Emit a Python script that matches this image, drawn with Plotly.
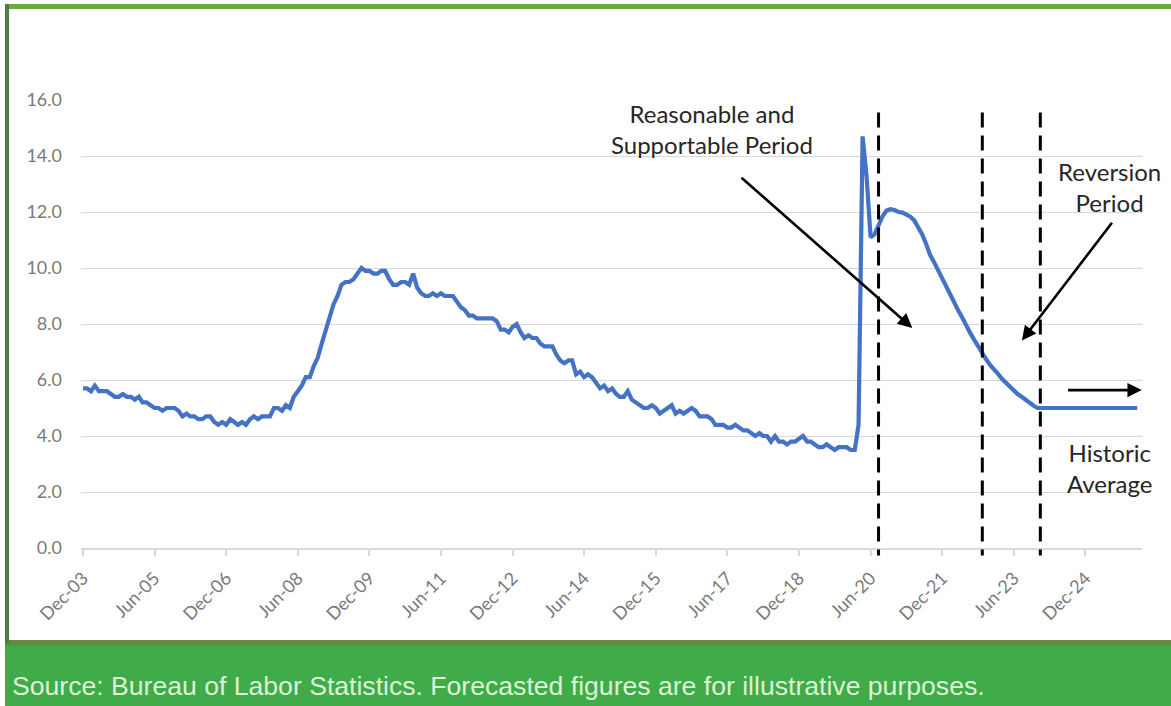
import plotly.graph_objects as go
import pandas as pd

# ---------------- data ----------------
start_month = "2003-12-01"

# Unemployment rate (%), monthly, Dec-2003 .. Jun-2020
hist_2003 = [5.7]
hist_2004 = [5.7, 5.6, 5.8, 5.6, 5.6, 5.6, 5.5, 5.4, 5.4, 5.5, 5.4, 5.4]
hist_2005 = [5.3, 5.4, 5.2, 5.2, 5.1, 5.0, 5.0, 4.9, 5.0, 5.0, 5.0, 4.9]
hist_2006 = [4.7, 4.8, 4.7, 4.7, 4.6, 4.6, 4.7, 4.7, 4.5, 4.4, 4.5, 4.4]
hist_2007 = [4.6, 4.5, 4.4, 4.5, 4.4, 4.6, 4.7, 4.6, 4.7, 4.7, 4.7, 5.0]
hist_2008 = [5.0, 4.9, 5.1, 5.0, 5.4, 5.6, 5.8, 6.1, 6.1, 6.5, 6.8, 7.3]
hist_2009 = [7.8, 8.3, 8.7, 9.0, 9.4, 9.5, 9.5, 9.6, 9.8, 10.0, 9.9, 9.9]
hist_2010 = [9.8, 9.8, 9.9, 9.9, 9.6, 9.4, 9.4, 9.5, 9.5, 9.4, 9.8, 9.3]
hist_2011 = [9.1, 9.0, 9.0, 9.1, 9.0, 9.1, 9.0, 9.0, 9.0, 8.8, 8.6, 8.5]
hist_2012 = [8.3, 8.3, 8.2, 8.2, 8.2, 8.2, 8.2, 8.1, 7.8, 7.8, 7.7, 7.9]
hist_2013 = [8.0, 7.7, 7.5, 7.6, 7.5, 7.5, 7.3, 7.2, 7.2, 7.2, 6.9, 6.7]
hist_2014 = [6.6, 6.7, 6.7, 6.2, 6.3, 6.1, 6.2, 6.1, 5.9, 5.7, 5.8, 5.6]
hist_2015 = [5.7, 5.5, 5.4, 5.4, 5.6, 5.3, 5.2, 5.1, 5.0, 5.0, 5.1, 5.0]
hist_2016 = [4.8, 4.9, 5.0, 5.1, 4.8, 4.9, 4.8, 4.9, 5.0, 4.9, 4.7, 4.7]
hist_2017 = [4.7, 4.6, 4.4, 4.4, 4.4, 4.3, 4.3, 4.4, 4.3, 4.2, 4.2, 4.1]
hist_2018 = [4.0, 4.1, 4.0, 4.0, 3.8, 4.0, 3.8, 3.8, 3.7, 3.8, 3.8, 3.9]
hist_2019 = [4.0, 3.8, 3.8, 3.7, 3.6, 3.6, 3.7, 3.6, 3.5, 3.6, 3.6, 3.6]
hist_2020 = [3.5, 3.5, 4.4, 14.7, 13.3, 11.1]

# Illustrative forecast, Jul-2020 .. Jan-2026
fc_2020 = [11.2, 11.55, 11.85, 12.05, 12.1, 12.07]
fc_2021 = [12.0, 11.98, 11.9, 11.83, 11.7, 11.45, 11.2, 10.85, 10.45, 10.2, 9.9, 9.6]
fc_2022 = [9.35, 9.0, 8.75, 8.5, 8.25, 7.95, 7.7, 7.45, 7.2, 6.95, 6.75, 6.55]
fc_2023 = [6.4, 6.22, 6.05, 5.9, 5.75, 5.62, 5.5, 5.4, 5.28, 5.17, 5.08, 5.0]
fc_2024 = [5.0, 5.0, 5.0, 5.0, 5.0, 5.0, 5.0, 5.0, 5.0, 5.0, 5.0, 5.0]
fc_2025 = [5.0, 5.0, 5.0, 5.0, 5.0, 5.0, 5.0, 5.0, 5.0, 5.0, 5.0, 5.0]
fc_2026 = [5.0]

tick_dates = ["2003-12-01", "2005-06-01", "2006-12-01", "2008-06-01", "2009-12-01",
              "2011-06-01", "2012-12-01", "2014-06-01", "2015-12-01", "2017-06-01",
              "2018-12-01", "2020-06-01", "2021-12-01", "2023-06-01", "2024-12-01"]
tick_labels = ["Dec-03", "Jun-05", "Dec-06", "Jun-08", "Dec-09", "Jun-11", "Dec-12",
               "Jun-14", "Dec-15", "Jun-17", "Dec-18", "Jun-20", "Dec-21", "Jun-23", "Dec-24"]

period_boundaries = ["2020-08-01", "2022-10-04", "2023-12-22"]

footer_text = "Source: Bureau of Labor Statistics. Forecasted figures are for illustrative purposes."

values = (hist_2003 + hist_2004 + hist_2005 + hist_2006 + hist_2007 + hist_2008 + hist_2009
          + hist_2010 + hist_2011 + hist_2012 + hist_2013 + hist_2014 + hist_2015 + hist_2016
          + hist_2017 + hist_2018 + hist_2019 + hist_2020
          + fc_2020 + fc_2021 + fc_2022 + fc_2023 + fc_2024 + fc_2025 + fc_2026)
dates = pd.date_range(start_month, periods=len(values), freq="MS")

# ---------------- layout helpers ----------------
W, H = 1171, 706
ML, MR, MT, MB = 81, 29, 100, 158
PW, PH = W - ML - MR, H - MT - MB
Y_MAX = 16


def px(x):
    return (x - ML) / PW


def py(y):
    return (H - MB - y) / PH


TXT = "#262626"
ANN_FONT = dict(family="Lato, Open Sans, sans-serif", size=24, color=TXT)

fig = go.Figure()
fig.add_trace(go.Scatter(x=dates, y=values, mode="lines",
                         line=dict(color="#4472C4", width=4.2), hoverinfo="skip",
                         showlegend=False))

shapes = []
# dashed period boundaries
for d in period_boundaries:
    shapes.append(dict(type="line", xref="x", yref="paper", x0=d, x1=d,
                       y0=15.55 / Y_MAX, y1=-0.27 / Y_MAX,
                       line=dict(color="black", width=3, dash="15px,8px")))
# frame decorations
shapes += [
    dict(type="rect", xref="paper", yref="paper", x0=px(5), x1=px(W), y0=py(H), y1=py(643),
         fillcolor="#3fab49", line=dict(width=0), layer="below"),
    dict(type="rect", xref="paper", yref="paper", x0=px(5), x1=px(W), y0=py(646), y1=py(640),
         fillcolor="#5f8f3e", line=dict(width=0), layer="below"),
    dict(type="rect", xref="paper", yref="paper", x0=px(5), x1=px(W), y0=py(9), y1=py(4),
         fillcolor="#6aab44", line=dict(width=0), layer="below"),
    dict(type="rect", xref="paper", yref="paper", x0=px(5), x1=px(9), y0=py(644), y1=py(4),
         fillcolor="#4e7c48", line=dict(width=0), layer="below"),
]

annotations = [
    dict(text="Reasonable and<br>Supportable Period", x="2017-02-07", y=14.98,
         xref="x", yref="y", showarrow=False, xanchor="center", yanchor="middle",
         font=ANN_FONT),
    dict(text="Reversion<br>Period", x="2025-06-04", y=12.9,
         xref="x", yref="y", showarrow=False, xanchor="center", yanchor="middle",
         font=ANN_FONT),
    dict(text="Historic<br>Average", x="2025-06-01", y=2.85,
         xref="x", yref="y", showarrow=False, xanchor="center", yanchor="middle",
         font=ANN_FONT),
    # arrows
    dict(text="", x="2021-04-16", y=7.86, ax="2017-09-06", ay=13.27,
         xref="x", yref="y", axref="x", ayref="y", showarrow=True,
         arrowhead=2, arrowsize=1.1, arrowwidth=2.6, arrowcolor="black", standoff=0),
    dict(text="", x="2023-08-03", y=7.41, ax="2025-07-01", ay=11.67,
         xref="x", yref="y", axref="x", ayref="y", showarrow=True,
         arrowhead=2, arrowsize=1.1, arrowwidth=2.6, arrowcolor="black", standoff=0),
    dict(text="", x="2026-02-05", y=5.64, ax="2024-07-10", ay=5.64,
         xref="x", yref="y", axref="x", ayref="y", showarrow=True,
         arrowhead=2, arrowsize=1.1, arrowwidth=2.6, arrowcolor="black", standoff=0),
    # footer
    dict(text=footer_text, x=px(10), y=py(686), xref="paper", yref="paper",
         showarrow=False, xanchor="left", yanchor="middle",
         font=dict(family="Liberation Sans, Arial, sans-serif", size=26.6, color="#dcf3d6")),
]

fig.update_layout(
    width=W, height=H,
    margin=dict(l=ML, r=MR, t=MT, b=MB, pad=0),
    paper_bgcolor="white", plot_bgcolor="white",
    shapes=shapes, annotations=annotations,
    showlegend=False,
    font=dict(family="Lato, Open Sans, sans-serif"),
    xaxis=dict(
        type="date",
        range=["2003-11-16", "2026-02-07"],
        tickmode="array", tickvals=tick_dates, ticktext=tick_labels,
        tickangle=-45,
        tickfont=dict(size=18, color="#7a7a7a"),
        showgrid=False, zeroline=False,
        showline=True, linecolor="#d9d9d9", linewidth=1.5,
        ticks="outside", tickcolor="#d9d9d9", ticklen=6, tickwidth=1.5,
        ticklabelstandoff=5,
    ),
    yaxis=dict(
        range=[0, Y_MAX], dtick=2, tick0=0, tickformat=".1f",
        tickfont=dict(size=18, color="#7a7a7a"),
        showgrid=True, gridcolor="#d9d9d9", gridwidth=1.2,
        zeroline=False, showline=False, ticks="",
        ticklabelstandoff=18,
    ),
)

fig.write_html("out.html")
